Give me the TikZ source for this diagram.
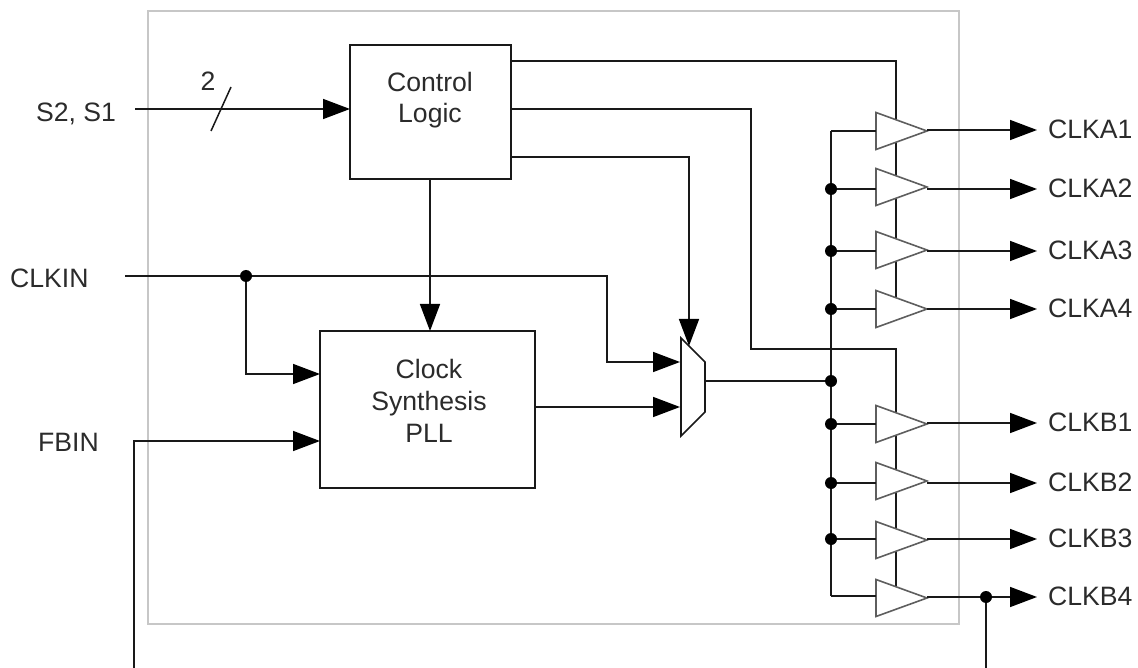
\documentclass[tikz,border=0pt]{standalone}
\usepackage{fontspec}
\setmainfont{Liberation Sans}
\usetikzlibrary{arrows.meta,shapes.geometric}
\definecolor{ink}{gray}{0.1}
\definecolor{frame}{gray}{0.78}
\definecolor{txt}{gray}{0.17}
\tikzset{
  wire/.style={draw=ink,line width=1.5pt},
  sig/.style={wire,-{Triangle[length=27pt,width=20pt,color=black]}},
  blockbox/.style={draw=ink,line width=1.5pt,fill=white,inner sep=0pt,outer sep=0pt},
  lbl/.style={inner sep=0pt,font=\fontsize{26.6}{31}\selectfont,text=txt},
  junction/.style={circle,fill=black,inner sep=0pt,minimum size=12pt},
  buffer/.style={isosceles triangle,isosceles triangle stretches,shape border rotate=0,draw=ink!70!white,line width=1.6pt,fill=white,minimum width=37pt,minimum height=51pt,inner sep=0pt,outer sep=0pt,anchor=lower side},
}
\begin{document}
\begin{tikzpicture}[x=1pt,y=-1pt]
\useasboundingbox (0,0) rectangle (1138,668);
\fill[white] (0,0) rectangle (1138,668);
\node[draw=frame,line width=1.5pt,minimum width=811pt,minimum height=613pt,inner sep=0pt,outer sep=0pt,anchor=north west] (chip) at (148,11) {};
% blocks
\node[blockbox,minimum width=161pt,minimum height=134pt,anchor=north west] (ctrl) at (350,45) {};
\node[blockbox,minimum width=215pt,minimum height=157pt,anchor=north west] (pll) at (320,331) {};
\node[lbl,align=center] (ctrltxt) at (430,100) {Control\\Logic};
\node[lbl,align=center] (plltxt) at (429,401) {Clock\\[1pt]Synthesis\\[1pt]PLL};
% anchors
\coordinate (busTop) at (831,131);
\coordinate (busBot) at (831,596);
\coordinate (enAtop) at (896,61);
\coordinate (enAbot) at (896,309);
\coordinate (enBtop) at (896,349);
\coordinate (enBbot) at (896,590);
\coordinate (muxTL) at (681,338);
\coordinate (muxTR) at (705,362);
\coordinate (muxBR) at (705,412);
\coordinate (muxBL) at (681,436);
\coordinate (muxOut) at (705,381);
\coordinate (muxI1) at (680,362);
\coordinate (muxI2) at (680,407);
\coordinate (muxS) at (689,346);
\coordinate (busJ) at (831,381);
% input labels
\node[lbl,anchor=west] (s21) at (36,114) {S2, S1};
\node[lbl,anchor=west] (clkin) at (10,278) {CLKIN};
\node[lbl,anchor=west] (fbin) at (38,442) {FBIN};
\node[lbl] (two) at (208,81) {2};
% mux
\draw[line width=1.6pt,draw=ink,fill=white,line join=miter] (muxTL) -- (muxTR) -- (muxBR) -- (muxBL) -- cycle;
% connectors
\coordinate (sStart) at (135,109);
\coordinate (clkStart) at (125,276);
\coordinate (fbStart) at (134,668);
\coordinate (slashA) at (211,131);
\coordinate (slashB) at (231,87);
\draw[wire] (slashA) -- (slashB);
\draw[sig] (sStart) -- (ctrl.west |- sStart);
\draw[sig] (430,179) -- (430,331);
\node[junction] (jclk) at (246,276) {};
\draw[wire] (clkStart) -- (jclk);
\draw[sig] (jclk) -- (jclk |- 0,374) -- (pll.west |- 0,374);
\draw[sig] (jclk) -- (607,276) -- (607,362) -- (muxI1);
\draw[sig] (fbStart) -- (134,441) -- (pll.west |- 0,441);
\draw[sig] (pll.east |- muxI2) -- (muxI2);
\draw[wire] (ctrl.east |- enAtop) -- (enAtop) -- (enAbot);
\draw[wire] (511,109) -- (751,109) -- (751,349) -- (enBtop) -- (enBbot);
\draw[sig] (511,157) -- (689,157) -- (muxS);
\draw[wire] (busTop) -- (busBot);
\draw[wire] (muxOut) -- (busJ);
\node[junction] (jbus) at (busJ) {};
% buffers and outputs
\foreach \n/\y/\yi/\yo/\t in {a1/131/131/130/CLKA1,a2/187/189/189/CLKA2,a3/250/251/251/CLKA3,a4/309/309/309/CLKA4,b1/424/424/423/CLKB1,b2/481/483/483/CLKB2,b3/540/539/539/CLKB3,b4/598/596/597/CLKB4}{
  \node[buffer] (buf\n) at (876,\y) {};
  \coordinate (in\n) at (831,\yi);
  \coordinate (out\n) at (927,\yo);
  \coordinate (tip\n) at (1037,\yo);
  \draw[wire] (in\n) -- (876,\yi);
  \draw[sig] (out\n) -- (tip\n);
  \node[lbl,anchor=west] (lab\n) at (1048,\yo-1) {\t};
}
\foreach \n in {a2,a3,a4,b1,b2,b3}{ \node[junction] (j\n) at (in\n) {}; }
\node[junction] (jfb) at (986,597) {};
\coordinate (fbEnd) at (986,668);
\draw[wire] (jfb) -- (fbEnd);
\end{tikzpicture}
\end{document}
